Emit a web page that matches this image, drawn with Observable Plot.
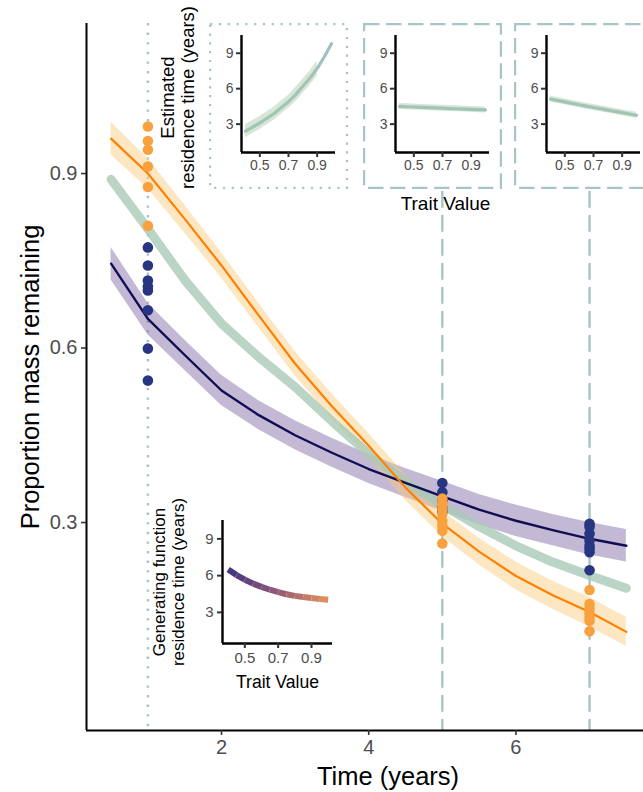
<!DOCTYPE html>
<html><head><meta charset="utf-8">
<script src="https://cdn.jsdelivr.net/npm/d3@7"></script>
<script src="https://cdn.jsdelivr.net/npm/@observablehq/plot@0.6"></script>
<style>
body{margin:0;background:#fff;}
#wrap{position:relative;width:643px;height:792px;overflow:hidden;background:#fff;}
#wrap svg{position:absolute;max-width:none;}
</style></head><body><div id="wrap"></div>
<script>
// ---------- data ----------
const curveTime = [0.5,1,1.5,2,2.5,3,3.5,4,4.5,5,5.5,6,6.5,7,7.5];
const orangeMean = [0.960,0.900,0.822,0.742,0.657,0.573,0.500,0.432,0.360,0.298,0.250,0.208,0.175,0.146,0.112];
const orangeLo   = [0.932,0.874,0.798,0.720,0.636,0.552,0.479,0.411,0.338,0.276,0.227,0.184,0.151,0.121,0.087];
const orangeHi   = [0.988,0.926,0.846,0.764,0.678,0.594,0.521,0.453,0.382,0.320,0.273,0.232,0.199,0.171,0.137];
const navyMean   = [0.745,0.650,0.588,0.527,0.485,0.450,0.420,0.392,0.368,0.345,0.322,0.303,0.287,0.272,0.260];
const navyLo     = [0.717,0.623,0.562,0.501,0.460,0.425,0.395,0.367,0.343,0.319,0.296,0.276,0.260,0.244,0.232];
const navyHi     = [0.773,0.677,0.614,0.553,0.510,0.475,0.445,0.417,0.393,0.371,0.348,0.330,0.314,0.300,0.288];
const greenMean  = [0.890,0.805,0.717,0.642,0.585,0.533,0.474,0.418,0.370,0.330,0.293,0.260,0.232,0.209,0.187];

const orangeObsTime = [1,1,1,1,1,1, 5,5,5,5,5,5,5,5, 7,7,7,7,7,7,7];
const orangeObsMass = [0.981,0.956,0.941,0.912,0.877,0.810, 0.341,0.333,0.324,0.315,0.303,0.295,0.286,0.264, 0.184,0.160,0.152,0.144,0.137,0.131,0.113];
const navyObsTime = [1,1,1,1,1,1,1,1, 5,5,5,5,5, 7,7,7,7,7,7,7,7];
const navyObsMass = [0.773,0.742,0.716,0.706,0.699,0.665,0.599,0.544, 0.368,0.352,0.338,0.325,0.318, 0.298,0.293,0.281,0.269,0.260,0.255,0.249,0.218];

const sampleTimes = [1,5,7];
const mainXTicks = [2,4,6];
const mainYTicks = [0.3,0.6,0.9];

const traitValue = [0.4,0.45,0.5,0.55,0.6,0.65,0.7,0.75,0.8,0.85,0.9,0.95,1.0];
const estRes1   = [2.4,2.75,3.1,3.5,3.9,4.4,4.9,5.5,6.2,6.9,7.7,8.7,9.8];
const estRes1Lo = [1.85,2.2,2.55,2.95,3.35,3.85,4.35,4.9,5.6,6.3,7.05];
const estRes1Hi = [2.95,3.3,3.65,4.05,4.45,4.95,5.45,6.1,6.8,7.5,8.35];
const estRes5   = [4.5,4.47,4.45,4.42,4.4,4.37,4.35,4.32,4.3,4.27,4.25,4.22,4.2];
const estRes5Lo = [4.25,4.22,4.2,4.17,4.15,4.12,4.1,4.07,4.05,4.02,4.0,3.97,3.95];
const estRes5Hi = [4.75,4.72,4.7,4.67,4.65,4.62,4.6,4.57,4.55,4.52,4.5,4.47,4.45];
const estRes7   = [5.12,5.0,4.88,4.76,4.64,4.52,4.41,4.3,4.19,4.08,3.97,3.86,3.75];
const estRes7Lo = [4.87,4.75,4.63,4.51,4.39,4.27,4.16,4.05,3.94,3.83,3.72,3.61,3.5];
const estRes7Hi = [5.37,5.25,5.13,5.01,4.89,4.77,4.66,4.55,4.44,4.33,4.22,4.11,4.0];
const genRes    = [6.5,6.05,5.67,5.35,5.08,4.85,4.65,4.48,4.35,4.25,4.17,4.1,4.03];
const insetXTicks = [0.5,0.7,0.9];
const insetYTicks = [3,6,9];

// ---------- build tables ----------
const curves = curveTime.map((t,i)=>({t, om:orangeMean[i], olo:orangeLo[i], ohi:orangeHi[i],
  nm:navyMean[i], nlo:navyLo[i], nhi:navyHi[i], gm:greenMean[i]}));
const orangeObs = orangeObsTime.map((t,i)=>({t, m:orangeObsMass[i]}));
const navyObs = navyObsTime.map((t,i)=>({t, m:navyObsMass[i]}));

const FONT = "'Liberation Sans', Arial, Helvetica, sans-serif";
const REF = "#a7c5c5";
const wrap = document.getElementById("wrap");
const fmt1 = d3.format(".1f");
const T = {text: d => d, fill: "black", textAnchor: "middle", lineAnchor: "middle"};

const xDom = [0.166, 7.733];
const yDom = [-0.0576, 1.158];

const main = Plot.plot({
  width: 643, height: 792,
  marginLeft: 86, marginTop: 23, marginBottom: 62, marginRight: 0,
  style: {fontFamily: FONT, color: "#4d4d4d", background: "transparent"},
  x: {domain: xDom},
  y: {domain: yDom},
  marks: [
    Plot.ruleX(sampleTimes.slice(0,1), {stroke: REF, strokeWidth: 2.4, strokeDasharray: "2.4,7.2"}),
    Plot.ruleX(sampleTimes.slice(1), {stroke: REF, strokeWidth: 2.4, strokeDasharray: "16.8,7.2"}),
    Plot.areaY(curves, {x: "t", y1: "nlo", y2: "nhi", fill: "#7a63a0", fillOpacity: 0.45}),
    Plot.areaY(curves, {x: "t", y1: "olo", y2: "ohi", fill: "#fbc97a", fillOpacity: 0.45}),
    Plot.line(curves, {x: "t", y: "gm", stroke: "#a9c9b6", strokeOpacity: 0.8, strokeWidth: 9}),
    Plot.line(curves, {x: "t", y: "nm", stroke: "#120d52", strokeWidth: 2.4}),
    Plot.line(curves, {x: "t", y: "om", stroke: "#ff8000", strokeWidth: 2.2}),
    Plot.dot(navyObs, {x: "t", y: "m", r: 5.3, fill: "#283582"}),
    Plot.dot(orangeObs, {x: "t", y: "m", r: 5.3, fill: "#f9a13f"}),
    Plot.ruleX([xDom[0]], {stroke: "black", strokeWidth: 2}),
    Plot.ruleY([yDom[0]], {stroke: "black", strokeWidth: 2}),
    Plot.axisX({ticks: mainXTicks, tickSize: 5, tickPadding: 4, label: null, fontSize: 20, stroke: "#333", strokeWidth: 1.6}),
    Plot.axisY({ticks: mainYTicks, tickFormat: fmt1, tickSize: 5, tickPadding: 4, label: null, fontSize: 20, stroke: "#333", strokeWidth: 1.6}),
    Plot.text(["Time (years)"], {...T, frameAnchor: "bottom", dx: 23, dy: 46, fontSize: 25.5}),
    Plot.text(["Proportion mass remaining"], {...T, frameAnchor: "left", rotate: -90, dx: -56, fontSize: 25.5}),
    Plot.text(["Estimated\nresidence time (years)"], {...T, frameAnchor: "top-left", dx: 91, dy: 74, rotate: -90, fontSize: 18.5, lineHeight: 1.1}),
    Plot.text(["Trait Value"], {...T, frameAnchor: "top-left", dx: 359, dy: 180, fontSize: 19})
  ]
});
main.style.left = "0px"; main.style.top = "0px";
wrap.appendChild(main);

// ---------- top insets ----------
function topInset(left, mean, lo, hi, dash) {
  const rows = traitValue.map((x,i)=>({x, y: mean[i]}));
  const band = lo.map((v,i)=>({x: traitValue[i], lo: v, hi: hi[i]}));
  const W = 139, H = 166;
  const p = Plot.plot({
    width: W, height: H,
    marginLeft: 32, marginRight: 13, marginTop: 12, marginBottom: 37,
    style: {fontFamily: FONT, color: "#4d4d4d", background: "transparent"},
    x: {domain: [0.372, 1.028]},
    y: {domain: [0.6, 10.5]},
    marks: [
      Plot.line(rows, {x: "x", y: "y", stroke: "#9ec2bf", strokeWidth: 3.2}),
      Plot.areaY(band, {x: "x", y1: "lo", y2: "hi", fill: "#a6c8a6", fillOpacity: 0.45}),
      Plot.ruleX([0.372], {stroke: "black", strokeWidth: 2.4}),
      Plot.ruleY([0.6], {stroke: "black", strokeWidth: 2.4}),
      Plot.axisX({ticks: insetXTicks, tickFormat: fmt1, tickSize: 5, tickPadding: 3, label: null, fontSize: 14, stroke: "#333", strokeWidth: 2}),
      Plot.axisY({ticks: insetYTicks, tickSize: 5, tickPadding: 3, label: null, fontSize: 14, stroke: "#333", strokeWidth: 2})
    ]
  });
  d3.select(p).insert("rect", ":first-child")
    .attr("x", 1.1).attr("y", 1.1).attr("width", W - 2.2).attr("height", H - 2.2)
    .attr("fill", "white").attr("stroke", REF).attr("stroke-width", 2.2)
    .attr("stroke-dasharray", dash);
  p.style.left = left + "px"; p.style.top = "23px";
  wrap.appendChild(p);
}
topInset(209, estRes1, estRes1Lo, estRes1Hi, "2.2,6.6");
topInset(363, estRes5, estRes5Lo, estRes5Hi, "15.4,6.6");
topInset(514, estRes7, estRes7Lo, estRes7Hi, "15.4,6.6");

// ---------- bottom inset (generating function) ----------
const genRows = traitValue.map((x,i)=>({x, y: genRes[i]}));
const gen = Plot.plot({
  width: 200, height: 210,
  marginLeft: 82, marginRight: 8, marginTop: 35, marginBottom: 52,
  style: {fontFamily: FONT, color: "#4d4d4d", background: "transparent"},
  x: {domain: [0.366, 1.026]},
  y: {domain: [0.46, 10.5]},
  color: {type: "linear", domain: [0.4, 0.7, 1.0], range: ["#47397e", "#9d5e76", "#ea985a"]},
  marks: [
    Plot.line(genRows, {x: "x", y: "y", z: null, stroke: "x", strokeWidth: 6, strokeLinecap: "butt"}),
    Plot.ruleX([0.366], {stroke: "black", strokeWidth: 2.4}),
    Plot.ruleY([0.46], {stroke: "black", strokeWidth: 2.4}),
    Plot.axisX({ticks: insetXTicks, tickFormat: fmt1, tickSize: 5, tickPadding: 4, label: null, fontSize: 15, stroke: "#333", strokeWidth: 2}),
    Plot.axisY({ticks: insetYTicks, tickSize: 5, tickPadding: 4, label: null, fontSize: 15, stroke: "#333", strokeWidth: 2}),
    Plot.text(["Trait Value"], {...T, frameAnchor: "bottom", dy: 39, fontSize: 17.6}),
    Plot.text(["Generating function\nresidence time (years)"], {...T, frameAnchor: "left", dx: -54, rotate: -90, fontSize: 17, lineHeight: 1.1})
  ]
});
gen.style.left = "140px"; gen.style.top = "485px";
wrap.appendChild(gen);
</script>
</body></html>
